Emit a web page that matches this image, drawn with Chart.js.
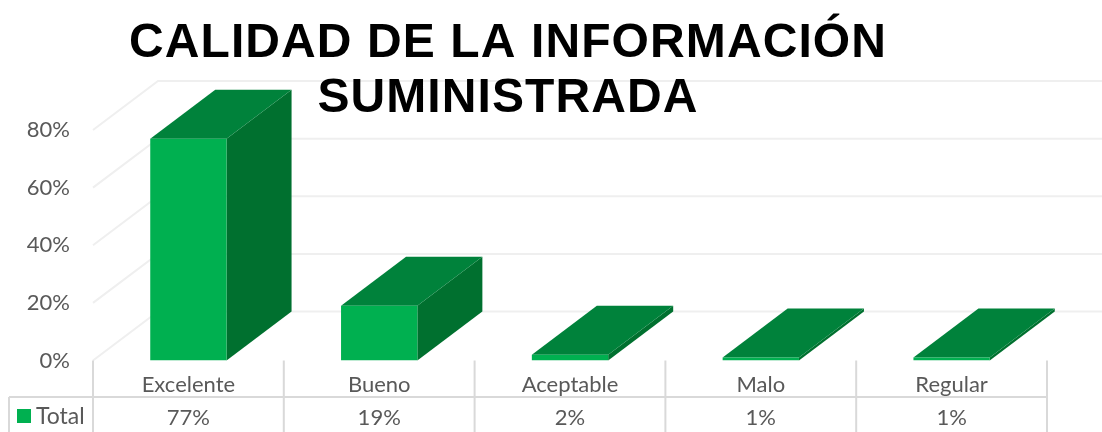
<!DOCTYPE html>
<html>
<head>
<meta charset="utf-8">
<title>Calidad de la información suministrada</title>
<script src="https://cdn.jsdelivr.net/npm/chart.js@4"></script>
<style>
	html, body { margin: 0; padding: 0; background: #fff; overflow: hidden; }
	canvas { display: block; }
</style>
</head>
<body>
<canvas id="chart" width="1102" height="432"></canvas>
<script>
const categories = ['Excelente', 'Bueno', 'Aceptable', 'Malo', 'Regular'];
const seriesName = 'Total';
const totalValues = [77, 19, 2, 1, 1];
const yTicks = [0, 20, 40, 60, 80];
const titleLines = ['CALIDAD DE LA INFORMACIÓN', 'SUMINISTRADA'];

const font = 'Lato';
const textColor = '#595959';
const depthX = 65;
const depthY = 49;

// Back wall, side wall and data table
const wallsAndTable = {
	id: 'wallsAndTable',
	beforeDatasetsDraw(chart) {
		const { ctx, chartArea, scales } = chart;
		ctx.save();
		ctx.strokeStyle = '#EFEFEF';
		ctx.lineWidth = 2;
		yTicks.forEach(function (tick) {
			const y = scales.y.getPixelForValue(tick);
			ctx.beginPath();
			ctx.moveTo(chartArea.left, y);
			ctx.lineTo(chartArea.left + depthX, y - depthY);
			ctx.lineTo(chartArea.right + depthX, y - depthY);
			ctx.stroke();
		});

		// table lines
		const rowY = 397;
		ctx.strokeStyle = '#D9D9D9';
		ctx.beginPath();
		ctx.moveTo(9, rowY);
		ctx.lineTo(chartArea.right, rowY);
		ctx.moveTo(9, rowY);
		ctx.lineTo(9, 432);
		for (let i = 0; i <= categories.length; i++) {
			const x = chartArea.left + (i * chartArea.width) / categories.length;
			ctx.moveTo(x, chartArea.bottom);
			ctx.lineTo(x, 432);
		}
		ctx.stroke();

		// table row
		ctx.fillStyle = '#00B050';
		ctx.fillRect(17, 409, 14, 14);
		ctx.fillStyle = textColor;
		ctx.textBaseline = 'middle';
		ctx.textAlign = 'left';
		ctx.font = '23px ' + font;
		ctx.fillText(seriesName, 36, 417);
		ctx.font = '22px ' + font;
		ctx.textAlign = 'center';
		totalValues.forEach(function (value, i) {
			ctx.fillText(value + '%', scales.x.getPixelForValue(i), 418);
		});
		ctx.restore();
	},
	beforeDatasetDraw(chart) {
		const { ctx } = chart;
		ctx.save();
		chart.getDatasetMeta(0).data.forEach(function (bar) {
			const left = bar.x - bar.width / 2;
			const right = bar.x + bar.width / 2;
			// side
			ctx.fillStyle = '#00702F';
			ctx.beginPath();
			ctx.moveTo(right, bar.y);
			ctx.lineTo(right + depthX, bar.y - depthY);
			ctx.lineTo(right + depthX, bar.base - depthY);
			ctx.lineTo(right, bar.base);
			ctx.closePath();
			ctx.fill();
			// top
			ctx.fillStyle = '#00823B';
			ctx.beginPath();
			ctx.moveTo(left, bar.y);
			ctx.lineTo(left + depthX, bar.y - depthY);
			ctx.lineTo(right + depthX, bar.y - depthY);
			ctx.lineTo(right, bar.y);
			ctx.closePath();
			ctx.fill();
		});
		ctx.restore();
	},
	afterDraw(chart) {
		const { ctx } = chart;
		ctx.save();
		ctx.fillStyle = '#000000';
		ctx.font = 'bold 48px "Liberation Sans"';
		ctx.letterSpacing = '1.1px';
		ctx.textAlign = 'center';
		ctx.textBaseline = 'alphabetic';
		ctx.fillText(titleLines[0], 508, 57);
		ctx.fillText(titleLines[1], 508, 112);
		ctx.restore();
	},
};

new Chart(document.getElementById('chart'), {
	type: 'bar',
	data: {
		labels: categories,
		datasets: [
			{
				label: seriesName,
				data: totalValues,
				backgroundColor: '#00B050',
				barPercentage: 0.4,
				categoryPercentage: 1,
			},
		],
	},
	options: {
		responsive: false,
		animation: false,
		layout: {
			padding: { top: 130, right: 55 },
		},
		plugins: {
			legend: { display: false },
			title: { display: false },
			tooltip: { enabled: false },
		},
		scales: {
			x: {
				grid: { display: false },
				border: { display: false },
				afterFit(scale) {
					scale.height = 71.5;
				},
				ticks: {
					color: textColor,
					font: { family: font, size: 22 },
					padding: 3,
					maxRotation: 0,
					autoSkip: false,
				},
			},
			y: {
				min: 0,
				max: 80,
				grid: { display: false },
				border: { display: false },
				afterFit(scale) {
					scale.width = 93;
				},
				afterBuildTicks(scale) {
					scale.ticks = yTicks.map(function (value) {
						return { value: value };
					});
				},
				ticks: {
					color: textColor,
					font: { family: font, size: 22 },
					padding: 15,
					callback: function (value) {
						return value + '%';
					},
				},
			},
		},
	},
	plugins: [wallsAndTable],
});
</script>
</body>
</html>
